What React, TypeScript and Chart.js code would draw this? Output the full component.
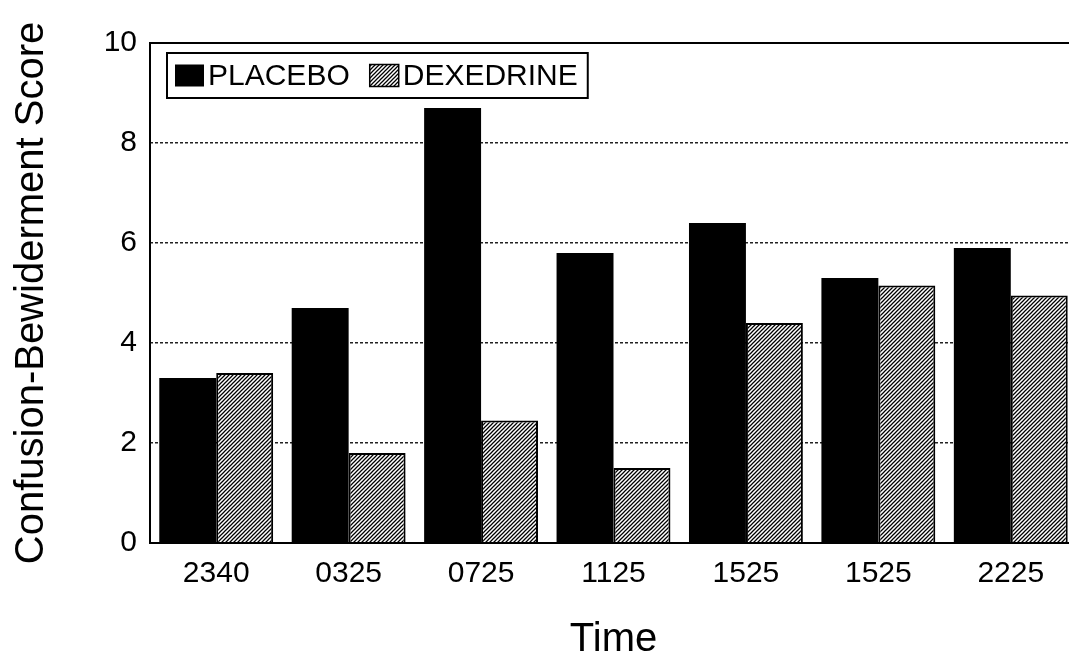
import React, { useEffect, useRef } from "react";
import { Chart, registerables } from "chart.js";

Chart.register(...registerables);

const categories = ["2340", "0325", "0725", "1125", "1525", "1525", "2225"];
const placeboValues = [3.3, 4.7, 8.7, 5.8, 6.4, 5.3, 5.9];
const dexedrineValues = [3.4, 1.8, 2.45, 1.5, 4.4, 5.15, 4.95];
const seriesLabels = ["PLACEBO", "DEXEDRINE"];
const yMin = 0;
const yMax = 10;
const yStep = 2;
const xTitle = "Time";
const yTitle = "Confusion-Bewiderment Score";

const FONT = '"Liberation Sans", Arial, Helvetica, sans-serif';
const W = 1085;
const H = 657;

function makeHatch(): CanvasPattern | string {
  const s = 4;
  const c = document.createElement("canvas");
  c.width = s;
  c.height = s;
  const g = c.getContext("2d");
  if (!g) return "#888";
  g.fillStyle = "#fff";
  g.fillRect(0, 0, s, s);
  g.strokeStyle = "#000";
  g.lineWidth = 1.25;
  g.beginPath();
  g.moveTo(0, s);
  g.lineTo(s, 0);
  g.moveTo(-1, 1);
  g.lineTo(1, -1);
  g.moveTo(s - 1, s + 1);
  g.lineTo(s + 1, s - 1);
  g.stroke();
  const p = g.createPattern(c, "repeat");
  return p || "#888";
}

const framePlugin = {
  id: "frame",
  afterDatasetsDraw(chart: any) {
    const { ctx, chartArea } = chart;
    ctx.save();
    ctx.strokeStyle = "#000";
    ctx.lineWidth = 2;
    ctx.beginPath();
    ctx.moveTo(chartArea.right, chartArea.top);
    ctx.lineTo(chartArea.left, chartArea.top);
    ctx.lineTo(chartArea.left, chartArea.bottom);
    ctx.lineTo(chartArea.right, chartArea.bottom);
    ctx.stroke();
    ctx.restore();
  },
};

const boxLegendPlugin = {
  id: "boxLegend",
  afterDraw(chart: any) {
    const { ctx, chartArea } = chart;
    ctx.save();
    ctx.font = `30px ${FONT}`;
    const x0 = chartArea.left + 17;
    const y0 = chartArea.top + 10;
    const h = 45;
    const boxW = 29;
    const boxH = 22;
    const cy = y0 + h / 2;
    let total = 8;
    chart.data.datasets.forEach((ds: any, i: number) => {
      total += boxW + 4 + ctx.measureText(ds.label).width;
      if (i < chart.data.datasets.length - 1) total += 20;
    });
    total += 10;
    ctx.fillStyle = "#fff";
    ctx.fillRect(x0, y0, total, h);
    let x = x0 + 8;
    chart.data.datasets.forEach((ds: any) => {
      ctx.fillStyle = ds.backgroundColor;
      ctx.fillRect(x, cy - boxH / 2, boxW, boxH);
      if (ds.borderWidth) {
        ctx.strokeStyle = "#000";
        ctx.lineWidth = 1.5;
        ctx.strokeRect(x, cy - boxH / 2, boxW, boxH);
      }
      x += boxW + 4;
      ctx.fillStyle = "#000";
      ctx.textBaseline = "middle";
      ctx.textAlign = "left";
      ctx.fillText(ds.label, x, cy + 1);
      x += ctx.measureText(ds.label).width + 20;
    });
    ctx.strokeStyle = "#000";
    ctx.lineWidth = 2;
    ctx.strokeRect(x0, y0, total, h);
    ctx.restore();
  },
};

export default function App() {
  const ref = useRef<HTMLCanvasElement | null>(null);

  useEffect(() => {
    document.body.style.overflow = "hidden";
    const canvas = ref.current;
    if (!canvas) return;
    const hatch = makeHatch();
    const chart = new Chart(canvas, {
      type: "bar",
      data: {
        labels: categories,
        datasets: [
          {
            label: seriesLabels[0],
            data: placeboValues,
            backgroundColor: "#000",
            borderColor: "#000",
            borderWidth: 0,
            barPercentage: 1.0,
            categoryPercentage: 0.86,
          },
          {
            label: seriesLabels[1],
            data: dexedrineValues,
            backgroundColor: hatch as any,
            borderColor: "#000",
            borderWidth: 2,
            barPercentage: 1.0,
            categoryPercentage: 0.86,
          },
        ],
      },
      options: {
        responsive: false,
        animation: false,
        devicePixelRatio: 1,
        layout: { padding: { left: 0, top: 43, right: W - 1077, bottom: 0 } },
        plugins: {
          legend: { display: false },
          tooltip: { enabled: false },
        },
        scales: {
          x: {
            type: "category",
            grid: { display: false, drawTicks: false },
            border: { display: false },
            ticks: {
              color: "#000",
              font: { family: FONT, size: 30 },
              padding: 13,
              maxRotation: 0,
              autoSkip: false,
            },
            title: {
              display: true,
              text: xTitle,
              color: "#000",
              font: { family: FONT, size: 40, lineHeight: 1 },
              padding: { top: 0, bottom: -3 },
            },
            afterFit(scale: any) {
              scale.height = H - 543;
            },
          },
          y: {
            min: yMin,
            max: yMax,
            grid: {
              drawTicks: false,
              lineWidth: 1.5,
              color: (c: any) =>
                c.tick && (c.tick.value === yMin || c.tick.value === yMax)
                  ? "rgba(0,0,0,0)"
                  : "#222",
            },
            border: { display: false, dash: [3, 2] },
            ticks: {
              stepSize: yStep,
              color: "#000",
              font: { family: FONT, size: 30 },
              padding: 13,
            },
            title: {
              display: true,
              text: yTitle,
              color: "#000",
              font: { family: FONT, size: 40, lineHeight: 1 },
              padding: { top: 12, bottom: 0 },
            },
            afterFit(scale: any) {
              scale.width = 150;
            },
          },
        },
      },
      plugins: [framePlugin, boxLegendPlugin],
    });
    return () => chart.destroy();
  }, []);

  return (
    <div style={{ position: "fixed", left: 0, top: 0, width: W, height: H, background: "#fff" }}>
      <canvas ref={ref} width={W} height={H} style={{ width: W, height: H, display: "block" }} />
    </div>
  );
}
